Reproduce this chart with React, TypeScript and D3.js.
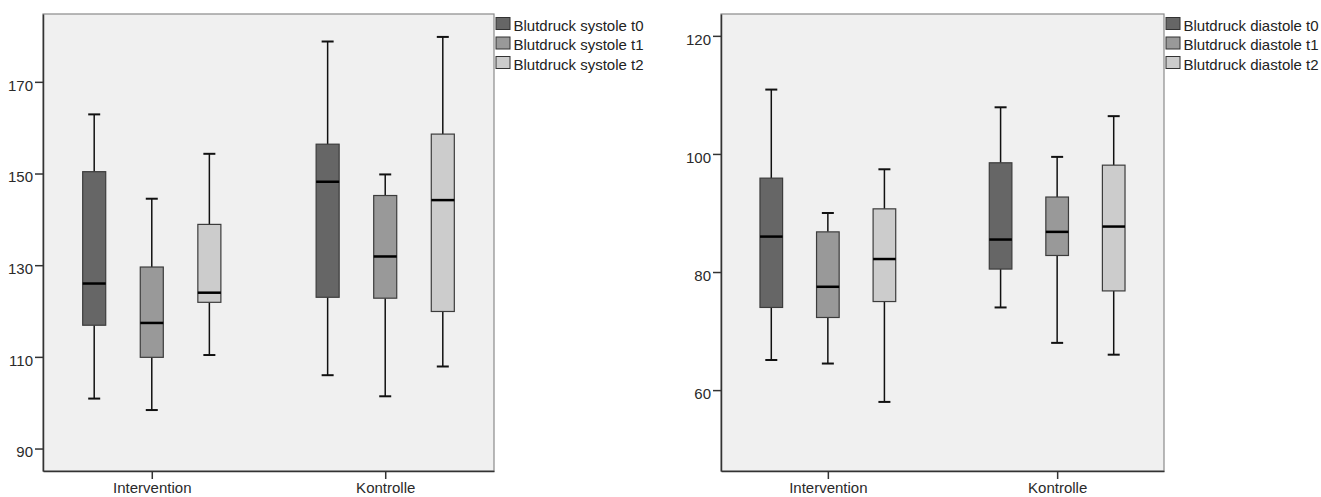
import { useEffect, useRef } from 'react'
import * as d3 from 'd3'

const groups = ['Intervention', 'Kontrolle']

const systoleLabels = ['Blutdruck systole t0', 'Blutdruck systole t1', 'Blutdruck systole t2']
const diastoleLabels = ['Blutdruck diastole t0', 'Blutdruck diastole t1', 'Blutdruck diastole t2']

// [min, q1, median, q3, max] for Intervention, Kontrolle
const systoleT0 = [[100.9, 116.9, 126.0, 150.4, 162.9], [106.0, 123.0, 148.2, 156.4, 178.8]]
const systoleT1 = [[98.4, 109.9, 117.4, 129.6, 144.5], [101.4, 122.8, 131.9, 145.2, 149.8]]
const systoleT2 = [[110.4, 121.9, 124.0, 138.9, 154.3], [107.9, 119.9, 144.2, 158.6, 179.8]]

const diastoleT0 = [[65.1, 74.0, 86.0, 95.9, 110.9], [74.0, 80.5, 85.5, 98.5, 107.9]]
const diastoleT1 = [[64.5, 72.3, 77.5, 86.8, 90.0], [68.0, 82.8, 86.8, 92.7, 99.5]]
const diastoleT2 = [[58.0, 75.0, 82.2, 90.7, 97.4], [66.0, 76.8, 87.7, 98.1, 106.4]]

const systoleTicks = [90, 110, 130, 150, 170]
const diastoleTicks = [60, 80, 100, 120]

const fills = ['#666666', '#999999', '#cccccc']
const font = "'Liberation Sans', Arial, sans-serif"

export default function App() {
  const svgRef = useRef<SVGSVGElement>(null)

  useEffect(() => {
    const width = 1321
    const height = 497
    const top = 14
    const bottom = 471

    const svg = d3.select(svgRef.current)
      .attr('width', width)
      .attr('height', height)

    svg.selectAll('*').remove()

    const panels = [
      { left: 43, right: 494, domain: [85.1, 184.8], ticks: systoleTicks, labels: systoleLabels, series: [systoleT0, systoleT1, systoleT2] },
      { left: 721, right: 1164, domain: [46.3, 123.7], ticks: diastoleTicks, labels: diastoleLabels, series: [diastoleT0, diastoleT1, diastoleT2] }
    ]

    panels.forEach(p => {
      const g = svg.append('g')

      const x = d3.scalePoint<string>()
        .domain(groups)
        .range([p.left, p.right])
        .padding(0.466)

      const step = x.step()
      const inner = d3.scaleBand<number>()
        .domain([0, 1, 2])
        .range([-0.37 * step, 0.37 * step])
        .paddingInner(0.6)
        .paddingOuter(0.3)

      const y = d3.scaleLinear()
        .domain(p.domain)
        .range([bottom, top])

      // plot background + frame
      g.append('rect')
        .attr('x', p.left)
        .attr('y', top)
        .attr('width', p.right - p.left)
        .attr('height', bottom - top)
        .attr('fill', '#f0f0f0')
        .attr('stroke', '#8a8a8a')
        .attr('stroke-width', 1.2)

      // Y axis
      const yAxis = g.append('g')
        .attr('transform', `translate(${p.left},0)`)
        .call(d3.axisLeft(y).tickValues(p.ticks).tickSizeInner(8).tickSizeOuter(0).tickPadding(2))
      yAxis.select('.domain').attr('stroke', '#333').attr('stroke-width', 1.5)
      yAxis.selectAll('line').attr('stroke', '#333').attr('stroke-width', 1.5)
      yAxis.selectAll('text')
        .attr('fill', '#2a2a2a')
        .attr('font-size', 15)
        .attr('font-family', font)
        .attr('dy', '0.55em')

      // X axis
      const xAxis = g.append('g')
        .attr('transform', `translate(0,${bottom})`)
        .call(d3.axisBottom(x).tickSizeInner(8).tickSizeOuter(0).tickPadding(3))
      xAxis.select('.domain').attr('stroke', '#333').attr('stroke-width', 1.5)
      xAxis.selectAll('line').attr('stroke', '#333').attr('stroke-width', 1.5)
      xAxis.selectAll('text')
        .attr('fill', '#2a2a2a')
        .attr('font-size', 15)
        .attr('font-family', font)
        .attr('dy', '0.72em')

      // Boxes
      p.series.forEach((s, si) => {
        s.forEach((d, gi) => {
          const cx = x(groups[gi])! + inner(si)! + inner.bandwidth() / 2
          const bw = inner.bandwidth()
          const [mn, q1, md, q3, mx] = d
          const b = g.append('g')

          b.append('line')
            .attr('x1', cx).attr('x2', cx)
            .attr('y1', y(mx)).attr('y2', y(q3))
            .attr('stroke', '#111').attr('stroke-width', 1.5)
          b.append('line')
            .attr('x1', cx).attr('x2', cx)
            .attr('y1', y(q1)).attr('y2', y(mn))
            .attr('stroke', '#111').attr('stroke-width', 1.5)
          ;[mn, mx].forEach(v => {
            b.append('line')
              .attr('x1', cx - 6).attr('x2', cx + 6)
              .attr('y1', y(v)).attr('y2', y(v))
              .attr('stroke', '#111').attr('stroke-width', 2)
          })
          b.append('rect')
            .attr('x', cx - bw / 2)
            .attr('y', y(q3))
            .attr('width', bw)
            .attr('height', y(q1) - y(q3))
            .attr('fill', fills[si])
            .attr('stroke', '#3c3c3c')
            .attr('stroke-width', 1.2)
          b.append('line')
            .attr('x1', cx - bw / 2).attr('x2', cx + bw / 2)
            .attr('y1', y(md)).attr('y2', y(md))
            .attr('stroke', '#000').attr('stroke-width', 2.5)
        })
      })

      // Legend
      const lg = g.append('g')
        .attr('transform', `translate(${p.right + 1.5},17)`)
      p.labels.forEach((label, i) => {
        lg.append('rect')
          .attr('x', 0.5)
          .attr('y', i * 19.5 + 0.5)
          .attr('width', 14)
          .attr('height', 12)
          .attr('fill', fills[i])
          .attr('stroke', '#333')
        lg.append('text')
          .attr('x', 18)
          .attr('y', i * 19.5 + 13.5)
          .attr('fill', '#222')
          .attr('font-size', 15)
          .attr('font-family', font)
          .text(label)
      })
    })
  }, [])

  return (
    <div style={{ position: 'absolute', left: 0, top: 0, background: '#fff' }}>
      <svg ref={svgRef} style={{ display: 'block' }}></svg>
    </div>
  )
}
